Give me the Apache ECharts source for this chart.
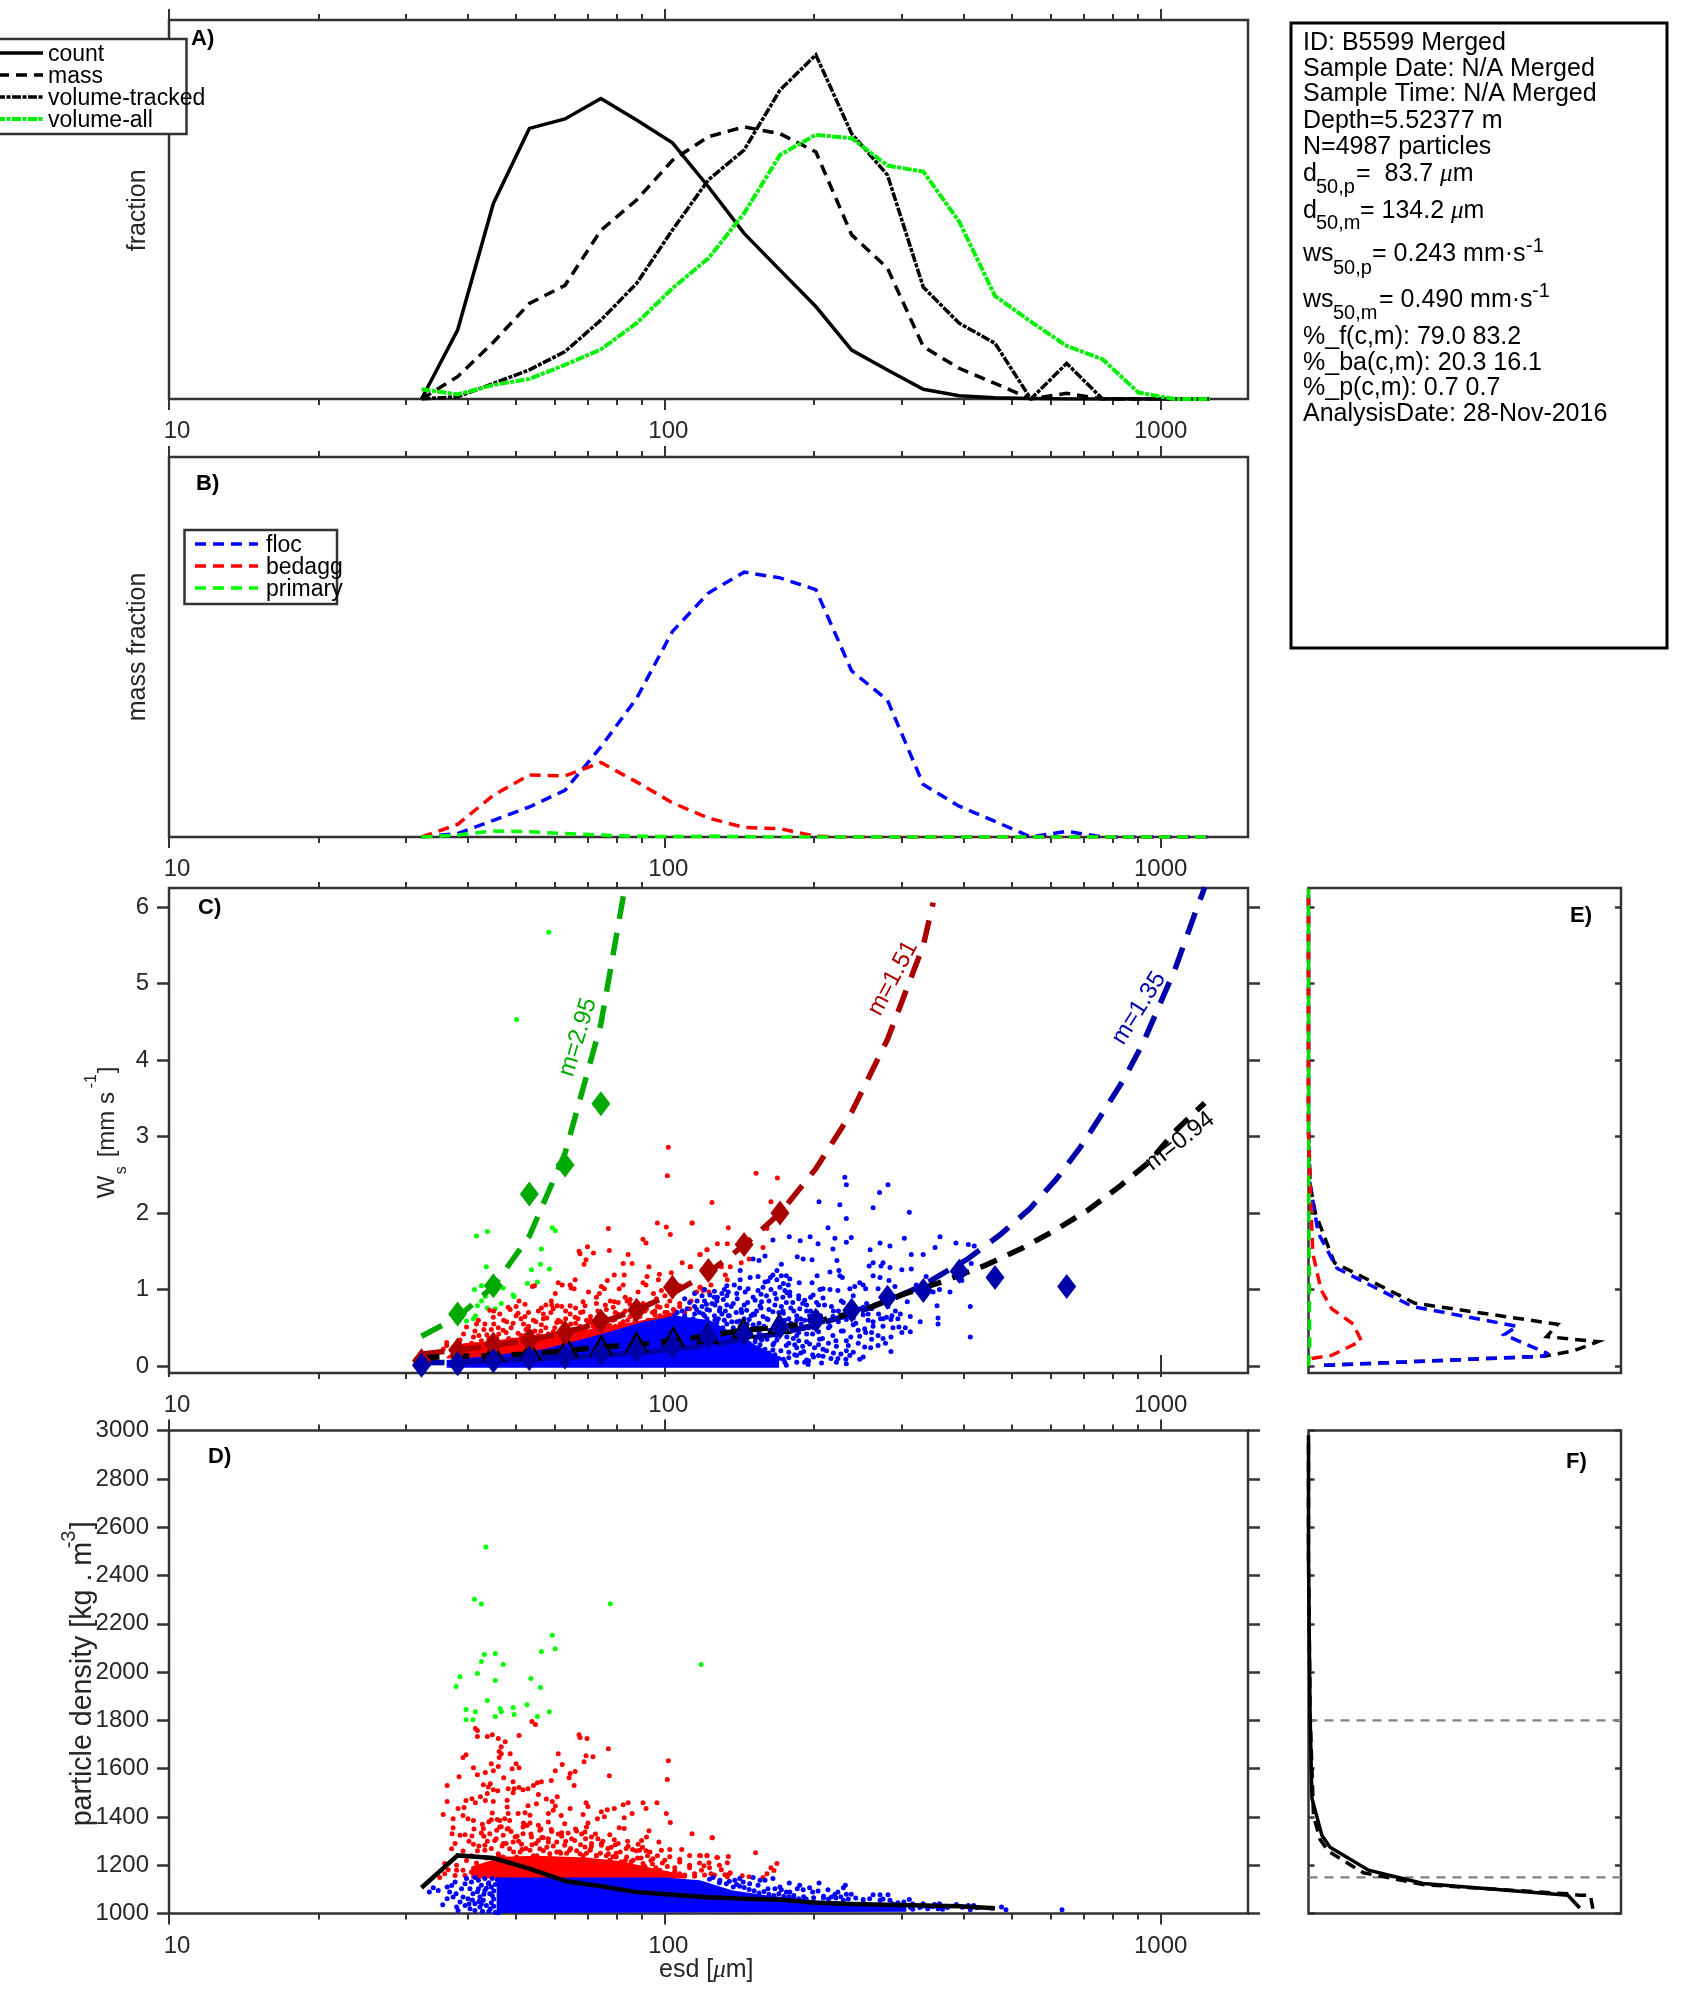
<!DOCTYPE html><html><body style="margin:0;background:#fff"><div id="c" style="width:1694px;height:2015px"></div>
<script src="https://cdn.jsdelivr.net/npm/echarts@6/dist/echarts.min.js"></script>
<script>
// ---------- data ----------
const esdBins=[32.3,38.2,45.1,53.3,62.9,74.3,87.7,103.6,122.4,144.5,170.7,201.6,238.1,281.2,332.1,392.3,463.3,547.2,646.3,763.3,901.5,1064.8,1257.6];
const fracCount=[0,.182,.516,.714,.739,.793,.736,.676,.56,.437,.34,.244,.129,.0765,.0255,.0088,.0035,.001,0,0,0,0,0];
const fracMass=[0,.059,.15,.252,.30,.445,.525,.63,.692,.718,.70,.652,.433,.345,.138,.081,.041,0,.015,0,0,0,0];
const fracTracked=[0,.006,.041,.077,.125,.208,.305,.446,.578,.657,.815,.908,.70,.591,.295,.20,.147,0,.094,0,0,0,0];
const fracAll=[.0255,.012,.037,.053,.09,.131,.20,.292,.371,.49,.644,.697,.688,.616,.60,.468,.272,.204,.14,.105,.017,0,0];
const massFloc=[0,.009,.044,.079,.123,.237,.365,.541,.642,.697,.682,.651,.437,.36,.138,.081,.041,0,.015,0,0,0,0];
const massBedagg=[0,.033,.11,.163,.161,.196,.145,.09,.05,.025,.022,.002,0,0,0,0,0,0,0,0,0,0,0];
const massPrimary=[0,.005,.016,.014,.009,.005,.002,.001,.002,.001,0,0,0,0,0,0,0,0,0,0,0,0,0];
const densMean=[1107,1241,1230,1186,1135,1113,1089,1078,1068,1062,1057,1045,1040,1037,1034,1030,1022];
const fitPrimary=[[32.3,.39],[38.2,.64],[45.1,1.04],[53.3,1.7],[62.9,2.78],[74.3,4.47],[82.5,6.15]];
const fitBedagg=[[32.3,.16],[38.2,.21],[45.1,.27],[53.3,.34],[62.9,.44],[74.3,.57],[87.7,.73],[103.6,.95],[122.4,1.22],[144.5,1.58],[170.7,2.0],[201.6,2.58],[238.1,3.32],[281.2,4.27],[332.1,5.5],[347.7,6.06]];
const fitFloc=[[32.3,.045],[38.2,.05],[45.1,.07],[53.3,.09],[62.9,.11],[74.3,.14],[87.7,.17],[103.6,.22],[122.4,.27],[144.5,.35],[170.7,.43],[201.6,.54],[238.1,.68],[281.2,.85],[332.1,1.06],[408,1.4],[475,1.72],[545,2.06],[617,2.45],[690,2.87],[764,3.31],[843,3.75],[921,4.22],[1069,5.19],[1167,5.88],[1227,6.26]];
const fitAll=[[32.3,.11],[38.2,.13],[45.1,.14],[53.3,.16],[62.9,.2],[74.3,.25],[87.7,.28],[103.6,.33],[122.4,.4],[144.5,.47],[170.7,.51],[201.6,.58],[248,.72],[303,.94],[362,1.1],[440,1.31],[525,1.54],[610,1.77],[714,2.04],[830,2.36],[945,2.66],[1069,3.07],[1227,3.44]];
const diaPrimary=[[38.2,.68],[45.1,1.05],[53.3,2.25],[62.9,2.63],[74.3,3.43]];
const diaBedagg=[[32.3,.07],[38.2,.21],[45.1,.29],[53.3,.34],[62.9,.44],[74.3,.59],[87.7,.73],[103.6,1.03],[122.4,1.25],[144.5,1.59],[170.7,2.0]];
const diaFloc=[[32.3,.01],[38.2,.03],[45.1,.07],[53.3,.1],[62.9,.12],[74.3,.16],[87.7,.2],[103.6,.25],[122.4,.38],[144.5,.42],[170.7,.51],[201.6,.6],[238.1,.73],[281.2,.9],[332.1,.99],[392.3,1.24],[463.3,1.16],[646.3,1.04]];
const triAll=[[45.1,.18],[53.5,.2],[63.4,.25],[74.5,.27],[87.7,.31],[104,.38],[122,.42],[144,.49],[170,.55]];
// envelopes of the solid-looking parts of the clouds [esd, value]
const coreCBedagg=[[36.3,.12],[39.3,.3],[45.1,.33],[52.6,.39],[61.4,.44],[71.8,.49],[83.7,.56],[93.3,.62],[105.7,.72],[105.7,.1],[36.3,.1]];
const coreCFloc=[[36.3,.08],[43.8,.13],[56.9,.22],[66.4,.33],[77.4,.45],[90.4,.58],[105.7,.66],[123.3,.6],[140,.4],[170,.12],[170,-.02],[36.3,-.02]];
const coreDBedagg=[[40.7,1195],[47.2,1235],[55.1,1240],[69.5,1232],[81.1,1218],[94.6,1188],[110.6,1160],[110.6,1145],[40.7,1145]];
const coreDFloc=[[45.8,1003],[45.8,1149],[100,1149],[117.7,1138],[137,1096],[160,1076],[199,1055],[255,1044],[307,1030],[307,1008]];
// individual particles [log10(esd), ws mm/s]
const cPrimaryPts=[[1.766,5.67],[1.701,4.53],[1.620,1.70],[1.642,1.76],[1.773,1.81],[1.779,1.77],[1.751,1.53],[1.640,1.30],[1.749,1.33],[1.731,1.26],[1.767,1.27],[1.723,1.08],[1.743,1.10],[1.630,1.05],[1.616,1.00],[1.674,1.02],[1.638,.91],[1.694,.93],[1.696,.91],[1.630,.85],[1.622,.79],[1.642,.76],[1.658,.75],[1.670,.82],[1.618,.66],[1.614,.62],[1.600,.59]];
const cBedaggPts=[[2.007,2.86],[2.005,2.49],[1.886,1.80],[1.985,1.87],[2.003,1.82],[2.011,1.72],[2.055,1.87],[1.956,1.66],[1.962,1.61],[1.844,1.56],[1.827,1.50],[1.829,1.47],[1.856,1.48],[1.888,1.51],[1.926,1.46],[1.841,1.39],[1.837,1.33],[1.916,1.34],[1.934,1.34],[1.968,1.30],[2.035,1.35],[2.051,1.30],[2.071,1.46],[2.085,1.52],[1.898,1.19],[1.918,1.19],[1.964,1.17],[1.989,1.20],[2.013,1.22],[1.987,1.13],[1.884,1.12],[1.819,1.13],[1.785,1.09],[1.793,1.06],[1.809,1.06],[1.811,1.02],[1.817,1.01],[1.737,1.05],[1.733,1.04],[1.872,1.04],[1.878,1.01],[1.916,1.06],[1.908,1.01],[1.956,1.09],[1.962,1.06],[1.946,.97],[1.846,.97],[1.779,.95],[1.868,.95],[1.862,.90],[1.771,.85],[1.706,.85],[1.783,.79],[1.835,.84],[1.809,.79],[1.890,.85],[1.898,.84],[1.906,.83],[1.930,.87],[1.924,.85],[1.956,.82],[1.977,.95],[1.983,.88],[1.993,.99],[2.030,1.05],[2.071,1.03],[2.077,.99],[2.064,.97],[1.970,.82],[1.990,.77],
[2.184,2.52],[2.227,2.46],[2.095,2.14],[2.214,2.15],[2.055,1.87],[2.128,1.81],[2.206,1.80],[2.106,1.60],[2.126,1.60],[2.085,1.52],[2.198,1.55],[2.071,1.46],[2.170,1.40],[2.154,1.35],[2.114,1.30],[2.132,1.30],[2.052,1.30],[2.122,1.19],[2.126,1.13],[2.093,1.06],[2.071,1.03],[2.079,1.00],[2.061,.96],[2.089,.97],[2.053,.85],
[1.647,.73],[1.667,.68],[1.688,.74],[1.704,.69],[1.745,.72],[1.775,.75],[1.809,.68],[1.835,.71],[1.882,.74],[1.916,.69],[1.956,.72],[1.980,.67],[2.017,.74],
[1.624,.6],[1.654,.64],[1.681,.58],[1.718,.65],[1.735,.6],[1.762,.63],[1.782,.57],[1.819,.64],[1.842,.6],[1.869,.66],[1.899,.61],[1.930,.65],[1.966,.6],[1.990,.66],
[1.600,.51],[1.637,.55],[1.664,.5],[1.694,.56],[1.725,.52],[1.751,.54],[1.778,.5],[1.798,.55],[1.829,.52],[1.852,.57],[1.889,.53],[1.916,.58],[1.950,.55],[1.977,.6],
[1.594,.42],[1.617,.46],[1.641,.41],[1.674,.47],[1.704,.43],[1.738,.46],[1.765,.42],[1.792,.48],[1.825,.46],[1.859,.5],[1.893,.47],[1.923,.53],
[1.587,.34],[1.614,.38],[1.630,.33],[1.661,.37],[1.694,.34],[1.718,.4],[1.751,.38],[1.782,.42],[1.560,.31],[1.560,.27],[1.553,.22],
[1.684,.77],[1.718,.81],[1.751,.76],[1.772,.8],[1.792,.78],[1.839,.79],[1.862,.82],[1.896,.77],[1.930,.81],[1.963,.75],[2.004,.79],[1.71,.62],[1.755,.68],[1.80,.62],[1.85,.65],[1.90,.7],[1.94,.6],[2.0,.7],[2.03,.78],[2.05,.75],
[1.61,.3],[1.625,.4],[1.635,.48],[1.645,.36],[1.655,.55],[1.665,.42],[1.675,.6],[1.685,.36],[1.69,.5],[1.70,.66],[1.71,.4],[1.715,.55],[1.725,.7],[1.73,.45],[1.74,.58],[1.745,.4],[1.755,.62],[1.76,.5],[1.77,.7],[1.775,.45],[1.785,.6],[1.795,.5],[1.80,.72],[1.81,.55],[1.815,.48],[1.825,.62],[1.83,.7],[1.84,.5],[1.85,.6],[1.855,.52],[1.865,.72],[1.87,.56],[1.88,.64],[1.885,.5],[1.895,.6],[1.905,.68],[1.91,.55],[1.92,.72],[1.925,.6],[1.935,.66],[1.945,.78],[1.95,.65],[1.96,.72],[1.97,.6],[1.975,.7],[1.985,.78],[1.995,.62],[2.005,.7],[2.01,.85],[2.02,.72],[2.03,.82],[2.04,.7],[1.62,.55],[1.65,.48],[1.68,.44],[1.72,.48],[1.75,.46],[1.79,.58],[1.82,.56],[1.845,.58],[1.875,.6],[1.9,.52],[1.94,.57],[1.965,.53],[1.655,.72],[1.7,.78],[1.76,.8],[1.82,.76],[1.88,.8],[1.92,.9],[1.98,.72],[2.0,.92]];
const cFlocPts=[[2.363,2.47],[2.366,2.37],[2.450,2.37],[2.433,2.27],[2.311,2.15],[2.353,2.11],[2.420,2.07],[2.493,2.01],[2.366,1.93],[2.329,1.81],[2.218,1.65],[2.251,1.69],[2.273,1.64],[2.293,1.69],[2.309,1.60],[2.343,1.67],[2.376,1.68],[2.366,1.62],[2.339,1.53],[2.414,1.52],[2.434,1.61],[2.454,1.57],[2.483,1.67],[2.545,1.55],[2.555,1.69],[2.587,1.61],[2.612,1.59],[2.624,1.57],[2.497,1.46],[2.521,1.46],[2.267,1.43],[2.279,1.40],[2.297,1.39],[2.347,1.38],[2.178,1.40],[2.202,1.44],[2.190,1.38],[2.235,1.33],[2.226,1.25],[2.152,1.25],[2.333,1.23],[2.351,1.25],[2.412,1.31],[2.420,1.35],[2.440,1.35],[2.436,1.31],[2.454,1.29],[2.478,1.26],[2.497,1.27],[2.618,1.34],[2.527,1.17],[2.307,1.18],[2.218,1.19],[2.188,1.17],[2.172,1.16],[2.152,1.13],[2.140,1.06],[2.213,1.16],[2.235,1.18],[2.245,1.18],[2.252,1.14],[2.226,1.13],[2.208,1.11],[2.353,1.18],[2.358,1.16],[2.420,1.18],[2.434,1.16],[2.452,1.12],[2.599,1.12],[2.297,1.09],[2.271,1.09],[2.202,1.10],[2.239,1.08],[2.249,1.06],[2.232,1.03],[2.198,1.03],[2.151,1.02],[2.168,1.01],[2.188,.99],[2.222,.95],[2.242,.99],[2.252,.92],[2.319,1.01],[2.313,1.00],[2.333,1.00],[2.349,.99],[2.373,1.01],[2.383,1.04],[2.393,1.09],[2.400,1.06],[2.405,1.01],[2.430,1.01],[2.464,1.04],[2.507,1.06],[2.541,.97],[2.554,1.00],[2.575,.97],[2.549,.79],[2.616,.78],[2.551,.63],[2.551,.55],[2.515,.58],[2.616,.38],[2.456,.19],[2.456,.38],[2.440,.36],[2.430,.27],[2.478,.44],[2.472,.51],[2.495,.45],[2.485,.50],[2.495,.65],[2.475,.68],[2.489,.84],[2.458,.66],[2.456,.61],[2.435,.62],[2.431,.68],[2.400,.77],[2.407,.82],
[2.091,.93],[2.118,.87],[2.145,.95],[2.178,.9],[2.195,.84],[2.225,.88],[2.252,.97],[2.282,.86],[2.299,.93],[2.319,.89],[2.356,.85],[2.380,.92],
[2.064,.74],[2.084,.81],[2.111,.76],[2.138,.82],[2.165,.73],[2.192,.79],[2.218,.71],[2.245,.83],[2.272,.75],[2.286,.8],[2.306,.7],[2.336,.78],[2.360,.83],[2.386,.72],[2.417,.75],
[2.057,.62],[2.077,.68],[2.101,.6],[2.128,.66],[2.151,.59],[2.181,.67],[2.208,.61],[2.239,.69],[2.266,.6],[2.292,.66],[2.319,.58],[2.339,.65],[2.366,.61],[2.400,.67],[2.420,.58],[2.447,.64],
[2.138,.5],[2.178,.54],[2.212,.47],[2.252,.53],[2.279,.49],[2.333,.52],[2.356,.46],[2.380,.54],[2.403,.49],[2.417,.44],[2.440,.52],
[2.131,.36],[2.165,.41],[2.195,.34],[2.225,.4],[2.259,.36],[2.286,.42],[2.312,.35],[2.339,.4],[2.366,.33],[2.393,.39],[2.417,.35],
[2.158,.23],[2.192,.28],[2.218,.21],[2.245,.27],[2.266,.24],[2.292,.29],[2.319,.22],[2.346,.26],[2.366,.2],[2.403,.25],
[2.165,.13],[2.195,.1],[2.222,.15],[2.239,.09],[2.266,.14],[2.286,.08],[2.319,.13],[2.349,.1],[2.373,.14],[2.393,.09],
[2.121,.03],[2.141,.02],[2.171,.05],[2.195,.02],[2.225,.04],[2.245,.01],[2.266,.05],[2.289,.02],[2.316,.04],[2.346,.05],[2.366,.03],
[2.105,.85],[2.128,.97],[2.16,.8],[2.185,.72],[2.205,.92],[2.235,.78],[2.26,.72],[2.27,.88],[2.295,.58],[2.31,.8],[2.155,.7],[2.125,.55],[2.17,.61],[2.2,.52],[2.23,.58],[2.25,.62],[2.275,.55],[2.3,.5],[2.31,.45],[2.15,.46],[2.19,.44],[2.22,.3],[2.24,.46],[2.27,.33],[2.31,.28],[2.33,.3],[2.18,.2],[2.21,.17],[2.25,.18],[2.28,.19],[2.3,.12],[2.34,.17],[2.37,.27],[2.39,.47],[2.41,.6],[2.38,.63],[2.35,.72],[2.33,.58],
[2.0,.6],[2.02,.66],[2.035,.72],[2.045,.6],[2.06,.78],[2.07,.7],[2.08,.85],[2.085,.62],[2.09,.73],[2.05,.83],[2.03,.56],[2.01,.56],[1.99,.54],[2.075,.92],[2.1,.98],[2.125,1.05],[2.145,.58],[2.115,.68],
[2.103,.42],[2.108,.62],[2.112,.3],[2.117,.5],[2.122,.72],[2.127,.38],[2.131,.2],[2.135,.58],[2.14,.44],[2.144,.7],[2.148,.28],[2.152,.52],[2.156,.16],[2.16,.62],[2.163,.37],[2.167,.83],[2.171,.24],[2.175,.48],[2.178,.68],[2.182,.32],[2.186,.14],[2.19,.56],[2.194,.76],[2.198,.4],[2.202,.22],[2.206,.62],[2.21,.85],[2.214,.46],[2.218,.12],[2.222,.54],[2.226,.34],[2.23,.7],[2.234,.2],[2.238,.9],[2.242,.6],[2.246,.38],[2.25,.11],[2.254,.76],[2.258,.5],[2.262,.28],[2.266,.66],[2.27,.44],[2.274,.17],[2.278,.82],[2.282,.6],[2.286,.32],[2.29,.07],[2.294,.72],[2.298,.42],[2.302,.24],[2.306,.55],[2.31,.14],[2.314,.66],[2.318,.36],[2.322,.8],[2.326,.2],[2.33,.5],[2.335,.1],[2.34,.72],[2.345,.33],[2.35,.58],[2.355,.16],[2.36,.46],[2.365,.09],[2.37,.7],[2.375,.38],[2.38,.18],[2.385,.56],[2.39,.3],[2.395,.75],[2.4,.12],[2.405,.44],[2.41,.68],[2.415,.24],[2.42,.52],[2.425,.8],[2.43,.4],[2.44,.62],[2.445,.3],[2.45,.78],[2.46,.5],[2.465,.72],[2.47,.62],
[2.101,.8],[2.106,.9],[2.11,.13],[2.115,.24],[2.12,.05],[2.125,.92],[2.13,.66],[2.134,.78],[2.138,.1],[2.142,.34],[2.146,.88],[2.15,.08],[2.154,.74],[2.158,.42],[2.162,.97],[2.166,.55],[2.17,.3],[2.174,.66],[2.178,.04],[2.182,.86],[2.186,.5],[2.19,.22],[2.194,.94],[2.198,.65],[2.202,.06],[2.206,.35],[2.21,.74],[2.214,1.0],[2.218,.28],[2.222,.8],[2.226,.58],[2.23,.1],[2.234,.46],[2.238,.72],[2.242,.05],[2.246,.96],[2.25,.3],[2.254,.56],[2.258,.83],[2.262,.15],[2.266,.4],[2.27,.92],[2.274,.62],[2.278,.26],[2.282,.05],[2.286,.72],[2.29,.5],[2.294,.9],[2.298,.15],[2.302,.63],[2.306,.83],
[1.96,.5],[1.97,.52],[1.985,.57],[2.0,.52],[2.01,.62],[2.02,.55],[2.025,.7],[2.04,.66],[2.045,.75],[2.055,.58],[2.06,.68],[2.065,.85],[2.07,.55],[2.075,.78],[2.08,.66],[2.085,.74],[2.09,.55],[2.095,.82],[2.1,.66],[2.105,.57],[2.11,.72],[2.115,.95],[2.12,.6],[2.125,.8],[2.04,.88],[2.06,.95],[2.08,1.0],[2.1,.9],[2.12,1.0]];
const dPrimaryPts=[[1.639,2518],[1.616,2302],[1.630,2282],[1.890,2283],[1.773,2153],[1.779,2097],[1.751,2085],[1.658,2077],[1.636,2073],[1.630,2044],[1.674,2031],[2.073,2031],[1.622,1994],[1.587,1981],[1.579,1940],[1.730,1973],[1.658,1965],[1.749,1936],[1.642,1882],[1.599,1845],[1.618,1836],[1.668,1849],[1.670,1836],[1.694,1853],[1.696,1824],[1.722,1865],[1.767,1836],[1.743,1816],[1.658,1816],[1.599,1803],[1.613,1803]];
const dBedaggPts=[[1.732,1795],[1.739,1783],[1.618,1766],[1.622,1758],[1.622,1733],[1.642,1733],[1.652,1741],[1.664,1725],[1.678,1712],[1.706,1737],[1.827,1741],[1.829,1729],[1.843,1725],[1.670,1691],[1.666,1671],[1.670,1662],[1.688,1662],[1.666,1646],[1.599,1658],[1.593,1646],[1.785,1662],[1.841,1654],[1.855,1650],[1.886,1683],[1.837,1629],[2.007,1633],[1.650,1621],[1.700,1621],[1.706,1604],[1.692,1600],[1.793,1617],[1.664,1609],[1.614,1604],[1.654,1592],[1.638,1584],[1.622,1575],[1.585,1567],[1.779,1592],[1.809,1580],[1.819,1588],[1.807,1563],[1.888,1571],[2.005,1555],[1.675,1563],[1.634,1534],[1.648,1538],[1.561,1530],[1.694,1546],[1.771,1551],[1.751,1546],[1.743,1542],[1.735,1530],[1.724,1517],[1.714,1513],[1.706,1522],[1.696,1517],[1.684,1517],[1.663,1509],[1.654,1513],[1.644,1524],[1.817,1530],[1.694,1500],[1.642,1497],[1.628,1484],[1.745,1493],[1.783,1484],[1.611,1476],[1.599,1468],[1.561,1464],[1.618,1459],[1.654,1464],[1.638,1468],[1.682,1469],[1.724,1447],[1.741,1455],[1.761,1475],[1.773,1464],[1.779,1446],[1.841,1459],[1.845,1443],[1.809,1435],[1.956,1459],[1.984,1459],[1.916,1451],[1.926,1459],[1.898,1435],[1.884,1430],[1.872,1422],[1.962,1435],[1.583,1435],[1.595,1439],[1.553,1410],[1.593,1406],[1.652,1417],[1.682,1441],[1.684,1414],[1.704,1414],[1.718,1418],[1.775,1428],[1.765,1414],[1.791,1406],[1.835,1410],[1.864,1393],[1.878,1401],[1.918,1397],[1.934,1414],[2.003,1414],[2.011,1377],[1.573,1393],[1.614,1386],[1.603,1393],[1.650,1389],[1.667,1386],[1.677,1393],[1.687,1386],[1.728,1407],[1.728,1375],[1.745,1366],[1.765,1379],[1.798,1372],[1.845,1375],[1.842,1359],[1.908,1356],[1.918,1352],[1.573,1356],[1.667,1359],[1.634,1352],[1.661,1345],[1.684,1352],[1.714,1359],[1.748,1345],[1.771,1348],[1.822,1342],[1.839,1338],[1.968,1343],[2.055,1331],[2.095,1314],[1.571,1331],[1.587,1324],[1.597,1327],[1.611,1321],[1.630,1334],[1.647,1331],[1.674,1324],[1.698,1317],[1.714,1331],[1.731,1317],[1.755,1314],[1.792,1335],[1.805,1334],[1.852,1317],[1.865,1310],[1.889,1327],[1.898,1306],[1.963,1317],[1.953,1303],[1.988,1296],[1.577,1290],[1.614,1287],[1.637,1283],[1.657,1303],[1.674,1290],[1.694,1296],[1.711,1287],[1.745,1303],[1.765,1296],[1.782,1296],[1.798,1283],[1.818,1303],[1.839,1276],[1.852,1290],[1.872,1283],[1.906,1290],[1.926,1279],[1.946,1287],[2.010,1265],[2.034,1265],[1.570,1269],[1.593,1259],[1.637,1262],[1.664,1248],[1.687,1269],[1.708,1255],[1.728,1262],[1.748,1269],[1.768,1248],[1.788,1255],[1.808,1262],[1.829,1248],[1.849,1262],[1.862,1241],[1.886,1248],[1.902,1234],[1.923,1234],[1.936,1221],[1.949,1262],[1.970,1255],[1.993,1262],[2.050,1241],[2.070,1241],[2.085,1241],[2.105,1232],[2.030,1214],[2.000,1221],[1.976,1227],[1.956,1207],[1.916,1207],[1.889,1221],[1.869,1207],[1.835,1221],[1.808,1207],[1.782,1221],[1.755,1227],[1.728,1221],[1.701,1234],[1.674,1234],[1.580,1200],[1.556,1207],[1.563,1182],[1.580,1179],[1.593,1179],[1.610,1172],[1.627,1193],[1.556,1165],[1.546,1149],[1.577,1158],[1.597,1158],
[2.096,1314],[2.183,1252],[2.226,1207],[2.214,1190],[2.220,1178],[2.206,1165],[2.198,1149],[2.128,1236],[2.106,1232],[2.085,1240],[2.072,1240],[2.126,1211],[2.089,1211],[2.079,1198],[2.114,1182],[2.132,1169],[2.121,1161],[2.126,1153],[2.093,1165],[2.074,1179],[2.156,1157],[2.170,1153],[1.95,1190],[1.99,1180],[2.02,1190],[2.05,1200],[1.91,1185],[2.0,1160],[2.03,1165],[2.06,1155],
[1.60,1220],[1.605,1300],[1.61,1240],[1.615,1350],[1.62,1210],[1.625,1280],[1.63,1180],[1.635,1320],[1.64,1230],[1.645,1380],[1.65,1270],[1.655,1200],[1.66,1310],[1.665,1240],[1.67,1360],[1.675,1190],[1.68,1290],[1.685,1225],[1.69,1340],[1.695,1255],[1.70,1175],[1.705,1300],[1.71,1220],[1.715,1375],[1.72,1270],[1.725,1195],[1.73,1330],[1.735,1240],[1.74,1290],[1.745,1170],[1.75,1350],[1.755,1260],[1.76,1200],[1.765,1310],[1.77,1230],[1.775,1280],[1.78,1180],[1.785,1330],[1.79,1250],[1.795,1205],[1.80,1300],[1.805,1170],[1.81,1270],[1.815,1225],[1.82,1350],[1.825,1190],[1.83,1285],[1.835,1240],[1.84,1310],[1.845,1170],[1.85,1265],[1.855,1215],[1.86,1330],[1.865,1180],[1.87,1250],[1.875,1300],[1.88,1195],[1.885,1270],[1.89,1165],[1.895,1235],[1.90,1285],[1.905,1180],[1.91,1255],[1.915,1160],[1.92,1220],[1.925,1300],[1.93,1185],[1.935,1265],[1.94,1170],[1.945,1230],[1.95,1160],[1.955,1275],[1.96,1195],[1.965,1240],[1.97,1165],[1.975,1205],[1.98,1155],[1.985,1240],[1.99,1175],[1.995,1210],[2.0,1160],[2.005,1195],[2.01,1235],[2.015,1155],[2.02,1175],[2.03,1225],[2.04,1160],[2.05,1190],[2.06,1165],[2.07,1210],[2.08,1160],[2.09,1190],[2.1,1160],[2.11,1200],[2.13,1165],
[1.612,1170],[1.622,1260],[1.632,1370],[1.642,1300],[1.652,1210],[1.662,1390],[1.672,1280],[1.682,1350],[1.692,1205],[1.702,1320],[1.712,1265],[1.722,1365],[1.732,1285],[1.742,1240],[1.752,1315],[1.762,1275],[1.772,1340],[1.782,1255],[1.792,1320],[1.802,1250],[1.812,1310],[1.822,1260],[1.832,1330],[1.842,1250],[1.852,1280],[1.862,1240],[1.872,1290],[1.882,1240],[1.892,1275],[1.902,1250],[1.912,1215],[1.922,1270],[1.932,1215],[1.942,1260],[1.952,1230],[1.962,1260],[1.972,1220],[1.982,1190]];
const dFlocPts=[[1.525,1089],[1.533,1107],[1.543,1096],[1.552,1037],[1.561,1062],[1.561,1110],[1.570,1116],[1.577,1131],[1.566,1089],[1.573,1069],[1.579,1082],[1.580,1027],[1.587,1048],[1.593,1069],[1.590,1103],[1.597,1124],[1.600,1145],[1.610,1131],[1.617,1149],[1.624,1138],[1.607,1103],[1.613,1082],[1.603,1062],[1.597,1034],[1.607,1020],[1.617,1041],[1.627,1069],[1.624,1103],[1.630,1117],[1.637,1145],[1.644,1124],[1.637,1096],[1.647,1082],[1.634,1055],[1.640,1034],[1.627,1027],[1.583,1013],[1.617,1013],[1.652,1145],[1.650,1110],[1.655,1060],[1.645,1010],[1.655,1030],
[2.251,1127],[2.311,1127],[2.272,1117],[2.292,1107],[2.267,1103],[2.279,1099],[2.329,1099],[2.364,1117],[2.360,1107],[2.309,1094],[2.298,1089],[2.366,1080],[2.376,1080],[2.349,1089],[2.343,1080],[2.336,1069],[2.420,1078],[2.434,1078],[2.450,1078],[2.413,1062],[2.434,1055],[2.454,1055],[2.493,1058],[2.482,1048],[2.521,1041],[2.544,1038],[2.554,1041],[2.588,1038],[2.612,1034],[2.623,1034],[2.679,1027],[2.688,1016],[2.801,1016],[2.551,1020],[2.616,1016],[2.514,1025],[2.495,1025],[2.467,1027],[2.447,1020],[2.423,1027],
[2.218,1145],[2.192,1138],[2.202,1138],[2.178,1149],[2.151,1145],[2.141,1138],[2.171,1124],[2.188,1117],[2.158,1131],[2.232,1110],[2.222,1103],[2.208,1103],[2.245,1089],[2.252,1089],[2.235,1099],[2.138,1110],[2.151,1113],[2.111,1138],[2.097,1149],[2.124,1124],[2.26,1070],[2.28,1070],[2.32,1065],[2.36,1055],[2.40,1045],[2.46,1040],
[1.662,1140],[1.658,1120],[1.655,1095],[1.652,1075],[1.65,1045],[1.648,1020],[1.645,1128],[1.64,1105],[1.635,1080],[1.63,1040],[1.632,1010],[1.625,1050],[1.622,1090],[1.612,1056],[1.605,1040],[1.658,1006],[1.664,1004],
[2.09,1142],[2.11,1128],[2.13,1134],[2.145,1120],[2.16,1108],[2.17,1100],[2.18,1095],[2.19,1085],[2.2,1092],[2.21,1080],[2.22,1075],[2.23,1082],[2.24,1072],[2.25,1070],[2.26,1075],[2.27,1062],[2.285,1060],[2.30,1066],[2.32,1072],[2.33,1060],[2.345,1065],[2.355,1070],[2.37,1060],[2.385,1065],[2.4,1058],[2.44,1060],[2.47,1045],[2.5,1040],[2.52,1030],[2.54,1028],[2.57,1025],[2.6,1026],[2.63,1024],[2.66,1022],[2.5,1018],[2.53,1020],[2.56,1018]];
const eTotal=[[.05,.01],[.754,.13],[.849,.2],[.926,.32],[.762,.386],[.797,.547],[.341,.822],[.083,1.35],[.022,2.0],[.005,2.38],[0,3.07],[0,6.24]];
const eFloc=[[.05,.01],[.754,.13],[.762,.17],[.626,.41],[.668,.52],[.332,.78],[.091,1.28],[.031,1.74],[.005,2.38],[0,3.07],[0,6.24]];
const eBedagg=[[.01,.1],[.074,.14],[.169,.33],[.143,.55],[.074,.75],[.04,1.0],[.014,1.47],[.005,2.38],[0,3.12],[0,6.24]];
const ePrimary=[[0,0],[.004,.3],[.003,.8],[.001,2],[0,6.24]];
const fCount=[[.868,1023],[.83,1076],[.367,1125],[.192,1180],[.069,1275],[.043,1323],[.011,1478],[.005,1827],[0,2477],[0,2980]];
const fMass=[[.91,1020],[.902,1076],[.868,1076],[.83,1082],[.367,1120],[.176,1169],[.064,1258],[.037,1307],[.016,1405],[.005,1827],[0,2477],[0,2980]];
const densRefs=[1800,1150];
const xTickLabels=[10,100,1000];
const xMinorTicks=[20,30,40,50,60,70,80,90,200,300,400,500,600,700,800,900];
const wsTicks=[0,1,2,3,4,5,6];
const densTicks=[1000,1200,1400,1600,1800,2000,2200,2400,2600,2800,3000];
const infoLines=[['ID: B5599 Merged',42],['Sample Date: N/A Merged',68],['Sample Time: N/A Merged',93],['Depth=5.52377 m',120],['N=4987 particles',146],['%_f(c,m): 79.0 83.2',336],['%_ba(c,m): 20.3 16.1',362],['%_p(c,m): 0.7 0.7',387],['AnalysisDate: 28-Nov-2016',413]];
// ---------- helpers ----------
const F='"Liberation Sans",Arial,sans-serif', INK='#262626', FR='#333333';
const pts=(arr)=>arr.map(p=>[Math.pow(10,p[0]),p[1]]);
const zip=(ys)=>ys.map((y,i)=>[esdBins[i],y]);
const c=echarts.init(document.getElementById('c'));
const gridBox=[[169,20,1079,379],[169,457,1079,380],[169,888,1079,485],[169,1430.6,1079,483],[1308.5,888,312.5,485],[1308.5,1430.6,312.5,483]];
const grid=gridBox.map(g=>({left:g[0],top:g[1],width:g[2],height:g[3],show:true,borderColor:FR,borderWidth:2.5,backgroundColor:'transparent',containLabel:false}));
const rich={s:{padding:[0,0,0,16],fontSize:24,fontFamily:F,color:INK},t:{padding:[0,0,0,7],fontSize:24,fontFamily:F,color:INK}};
const logAx=(g,pos,vals,len,labels)=>({type:'log',logBase:10,min:10,max:1500,gridIndex:g,position:pos,axisLine:{show:false},splitLine:{show:false},minorTick:{show:false},
  axisTick:{show:true,length:len,customValues:vals,lineStyle:{color:FR,width:2}},
  axisLabel:labels?{show:true,customValues:xTickLabels,fontSize:24,fontFamily:F,color:INK,margin:20.5,hideOverlap:false,rich,formatter:v=>v==10?'{s|10}':v==100?'{t|100}':String(v)}:{show:false}});
const xAxis=[];
for(let g=0;g<4;g++){xAxis.push(logAx(g,'bottom',xTickLabels,11,true),logAx(g,'top',xTickLabels,11,false),logAx(g,'bottom',xMinorTicks,6,false),logAx(g,'top',xMinorTicks,6,false));}
const hid={show:false};
xAxis.push({type:'value',gridIndex:4,min:0,max:1,axisLine:hid,axisTick:hid,axisLabel:hid,splitLine:hid},{type:'value',gridIndex:5,min:0,max:1,axisLine:hid,axisTick:hid,axisLabel:hid,splitLine:hid});
const yAx=(g,pos,min,max,vals,len,inside,label)=>({type:'value',gridIndex:g,position:pos,min,max,axisLine:{show:false},splitLine:{show:false},
  axisTick:vals?{show:true,inside,length:len,customValues:vals,lineStyle:{color:FR,width:2.5}}:{show:false},
  axisLabel:label?{show:true,customValues:vals,fontSize:24,fontFamily:F,color:INK,margin:20,hideOverlap:false,formatter:v=>String(v)}:{show:false}});
const yAxis=[yAx(0,'left',0,1),yAx(1,'left',0,1),
 yAx(2,'left',-.09,6.25,wsTicks,12,false,true),yAx(2,'right',-.09,6.25,wsTicks,12,false,false),
 yAx(3,'left',1000,3000,densTicks,12,false,true),yAx(3,'right',1000,3000,densTicks,12,false,false),
 yAx(4,'left',-.09,6.25,wsTicks,6,true,false),yAx(4,'right',-.09,6.25,wsTicks,6,true,false),
 yAx(5,'left',1000,3000,densTicks,6,true,false),yAx(5,'right',1000,3000,densTicks,6,true,false)];
const line=(name,data,xi,yi,color,width,dash,z)=>({name,type:'line',xAxisIndex:xi,yAxisIndex:yi,data,symbol:'none',smooth:false,silent:true,z:z||5,clip:true,lineStyle:{color,width,type:dash||'solid',cap:'butt',join:'miter'},itemStyle:{color}});
const scat=(name,data,xi,yi,color,z)=>({name,type:'scatter',xAxisIndex:xi,yAxisIndex:yi,data,symbol:'circle',symbolSize:5,silent:true,z,itemStyle:{color,opacity:1},large:false});
const dia=(name,data,xi,yi,color)=>({name,type:'scatter',xAxisIndex:xi,yAxisIndex:yi,data,symbol:'diamond',symbolSize:[19,25],silent:true,z:7,itemStyle:{color,opacity:1}});
const poly=(name,data,xi,yi,color,z)=>({name,type:'custom',xAxisIndex:xi,yAxisIndex:yi,data:[data[0]],silent:true,z,clip:true,renderItem:(p,api)=>({type:'polygon',shape:{points:data.map(d=>api.coord(d))},style:{fill:color}})});
const D1=[11,7],DD=[9,1.5,4,1.5],DC=[23,14];
const series=[
 line('count',zip(fracCount),0,0,'#000',3.5),
 line('mass',zip(fracMass),0,0,'#000',3.5,D1),
 line('volume-tracked',zip(fracTracked),0,0,'#000',3.5,DD),
 line('volume-all',zip(fracAll),0,0,'#00f000',4,DD),
 line('floc',zip(massFloc),4,1,'#0000ff',3.5,D1),
 line('bedagg',zip(massBedagg),4,1,'#ff0000',3.5,D1),
 line('primary',zip(massPrimary),4,1,'#00ff00',3.5,D1),
 scat('C primary pts',pts(cPrimaryPts),8,2,'#00ff00',2),
 poly('C bedagg core',coreCBedagg,8,2,'#ff0000',2),
 scat('C bedagg pts',pts(cBedaggPts),8,2,'#ff0000',2),
 scat('C floc pts',pts(cFlocPts),8,2,'#0000ff',3),
 poly('C floc core',coreCFloc,8,2,'#0000ff',3),
 line('fit primary',fitPrimary,8,2,'#00aa00',5.5,DC),
 line('fit bedagg',fitBedagg,8,2,'#aa0000',5.5,DC),
 line('fit floc',fitFloc,8,2,'#0000aa',5.5,DC),
 line('fit all',fitAll,8,2,'#000000',5.5,[18,12],6),
 {name:'C mean',type:'scatter',xAxisIndex:8,yAxisIndex:2,data:triAll,symbol:'triangle',symbolSize:[20,18],silent:true,z:6,itemStyle:{color:'rgba(0,0,0,0)',borderColor:'#000',borderWidth:2.5,opacity:1}},
 dia('dia primary',diaPrimary,8,2,'#00aa00'),
 dia('dia bedagg',diaBedagg,8,2,'#aa0000'),
 dia('dia floc',diaFloc,8,2,'#0000aa'),
 poly('D bedagg core',coreDBedagg,12,4,'#ff0000',2),
 scat('D primary pts',pts(dPrimaryPts),12,4,'#00ff00',2),
 scat('D bedagg pts',pts(dBedaggPts),12,4,'#ff0000',2),
 scat('D floc pts',pts(dFlocPts),12,4,'#0000ff',3),
 poly('D floc core',coreDFloc,12,4,'#0000ff',3),
 line('density mean',densMean.map((y,i)=>[esdBins[i],y]),12,4,'#000',4.5),
 line('E total',eTotal,16,6,'#000',3.5,D1),
 line('E floc',eFloc,16,6,'#0000ff',3.5,D1),
 line('E bedagg',eBedagg,16,6,'#ff0000',3.5,D1),
 line('E primary',ePrimary,16,6,'#00e000',3.5,D1),
 line('F mass',fMass,17,8,'#000',3.5,D1),
 line('F count',fCount,17,8,'#000',3.5),
 line('ref1',[[0,densRefs[0]],[1,densRefs[0]]],17,8,'#808080',2.2,[9,7],4),
 line('ref2',[[0,densRefs[1]],[1,densRefs[1]]],17,8,'#808080',2.2,[9,7],4)
];
// ---------- text, legends, info box ----------
const T=(text,x,y,size,o)=>({type:'text',x,y:y+1.3,z:20,rotation:(o&&o.rot)||0,style:Object.assign({text,fontSize:size,fontFamily:F,fill:(o&&o.fill)||'#000',align:(o&&o.align)||'left',verticalAlign:'middle',fontWeight:(o&&o.bold)?'bold':'normal'},(o&&o.extra)||{})});
const Lseg=(x1,x2,y,color,width,dash)=>({type:'line',z:19,shape:{x1,y1:y,x2,y2:y},style:{stroke:color,lineWidth:width,lineDash:dash||null}});
const R=(x,y,w,h,stroke,lw)=>({type:'rect',z:18,shape:{x,y,width:w,height:h},style:{fill:'#fff',stroke,lineWidth:lw}});
const mu={i:{fontStyle:'italic',fontSize:25,fontFamily:'"Liberation Serif",serif'}};
const RP=Math.PI/2;
const graphic=[
 R(1291,23,376,625,'#000',3),
 ...infoLines.map(l=>T(l[0],1303,l[1],25)),
 T('d',1303,173,25),T('50,p',1316,186,20),T('=  83.7 {i|μ}m',1356,173,25,{extra:{rich:mu}}),
 T('d',1303,210,25),T('50,m',1316,222,20),T('= 134.2 {i|μ}m',1360,210,25,{extra:{rich:mu}}),
 T('ws',1303,253,25),T('50,p',1333,267,20),T('= 0.243 mm·s',1372,253,25),T('-1',1526,245,20),
 T('ws',1303,299,25),T('50,m',1333,312,20),T('= 0.490 mm·s',1379,299,25),T('-1',1532,290,20),
 // legend A
 R(-10,39,196.5,95,FR,2.5),
 Lseg(-20,43,53,'#000',3.5),Lseg(-20,43,75,'#000',3.5,D1),Lseg(-20,43,97,'#000',3.5,DD),Lseg(-20,43,119,'#00f000',4,DD),
 T('count',48,53,23),T('mass',48,75,23),T('volume-tracked',48,97,23),T('volume-all',48,119,23),
 // legend B
 R(184.5,530,152.5,74,FR,2.5),
 Lseg(195,258,544,'#0000ff',3.5,D1),Lseg(195,258,566,'#ff0000',3.5,D1),Lseg(195,258,588,'#00ff00',3.5,D1),
 T('floc',266,544,23),T('bedagg',266,566,23),T('primary',266,588,23),
 // panel letters
 T('A)',191,38,22,{bold:1}),T('B)',196,483,22,{bold:1}),T('C)',198,907,22,{bold:1}),T('D)',208,1456,22,{bold:1}),T('E)',1570,915,22,{bold:1}),T('F)',1566,1461,22,{bold:1}),
 // axis titles
 T('fraction',138,250,25,{rot:RP,fill:INK}),
 T('mass fraction',138,720,25,{rot:RP,fill:INK}),
 T('W',107,1197,24,{rot:RP,fill:INK}),T('s',122,1173,16,{rot:RP,fill:INK}),T('[mm s',107,1156,24,{rot:RP,fill:INK}),T('-1',92,1087,16,{rot:RP,fill:INK}),T(']',107,1072,24,{rot:RP,fill:INK}),
 T('particle density [kg . m',83,1825,28.6,{rot:RP,fill:INK}),T('-3',69,1547,20,{rot:RP,fill:INK}),T(']',83,1528,28.6,{rot:RP,fill:INK}),
 T('esd [{i|μ}m]',659,1969,25,{fill:INK,extra:{rich:mu}}),
 // fit labels
 T('m=2.95',578,1036,24,{rot:73*Math.PI/180,fill:'#00aa00',align:'center'}),
 T('m=1.51',893,977,24,{rot:62*Math.PI/180,fill:'#aa0000',align:'center'}),
 T('m=1.35',1139,1007,24,{rot:58*Math.PI/180,fill:'#0000aa',align:'center'}),
 T('m=0.94',1180,1140,24,{rot:38*Math.PI/180,fill:'#000',align:'center'})
];
c.setOption({animation:false,backgroundColor:'#fff',tooltip:{show:false},grid,xAxis,yAxis,series,graphic});
</script></body></html>
